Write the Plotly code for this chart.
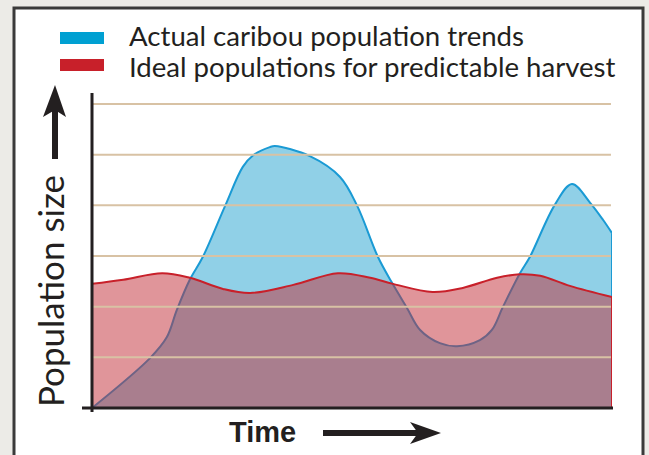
import plotly.graph_objects as go

W, H = 649, 455

# ---- data (time in arbitrary units 0..10, population in grid units 0..6)
actual_t = [0, 1.12, 1.44, 1.63, 1.88, 2.13, 2.56, 2.90, 3.10, 3.42, 3.52, 4.19, 4.77,
            5.10, 5.50, 5.77, 6.06, 6.31, 6.69, 7.02, 7.46, 7.69, 7.90, 8.23, 8.42,
            8.90, 9.23, 9.58, 9.83, 10]
actual_pop = [0, 0.99, 1.40, 1.93, 2.53, 2.98, 3.99, 4.76, 4.99, 5.15, 5.17, 4.97, 4.56,
              3.99, 2.98, 2.47, 1.97, 1.54, 1.28, 1.22, 1.34, 1.54, 1.99, 2.66, 2.98,
              4.01, 4.42, 4.05, 3.71, 3.45]
ideal_t = [0, 0.60, 1.35, 1.88, 2.52, 3.04, 3.87, 4.73, 5.35, 5.79, 6.55, 7.13, 7.79,
           8.23, 8.62, 9.19, 10]
ideal_pop = [2.45, 2.53, 2.66, 2.57, 2.35, 2.27, 2.43, 2.66, 2.57, 2.45, 2.29, 2.37, 2.57,
             2.64, 2.61, 2.41, 2.19]
grid_levels = [1, 2, 3, 4, 5, 6]
legend_labels = ["Actual caribou population trends", "Ideal populations for predictable harvest"]

BLUE_LINE = "#1a9ad4"
BLUE_FILL = "rgba(20,155,205,0.47)"
RED_LINE = "#c8202a"
RED_FILL = "rgba(193,43,53,0.5)"
INK = "#231f20"
GRID = "#d8c2a4"

def X(px):
    return px / W

def Y(py):
    return 1 - py / H

fig = go.Figure()
fig.add_trace(go.Scatter(x=actual_t, y=actual_pop, mode="lines", fill="tozeroy",
                         fillcolor=BLUE_FILL, line=dict(color=BLUE_LINE, width=2, shape="spline", smoothing=1),
                         hoverinfo="skip", showlegend=False))
fig.add_trace(go.Scatter(x=[actual_t[-1], actual_t[-1]], y=[actual_pop[-1], 0], mode="lines",
                         line=dict(color=BLUE_LINE, width=2), hoverinfo="skip", showlegend=False))
fig.add_trace(go.Scatter(x=ideal_t, y=ideal_pop, mode="lines", fill="tozeroy",
                         fillcolor=RED_FILL, line=dict(color=RED_LINE, width=2, shape="spline", smoothing=1),
                         hoverinfo="skip", showlegend=False))
fig.add_trace(go.Scatter(x=[ideal_t[-1], ideal_t[-1]], y=[ideal_pop[-1], 0], mode="lines",
                         line=dict(color=RED_LINE, width=2), hoverinfo="skip", showlegend=False))

shapes = []
# frame and white panel
shapes.append(dict(type="rect", xref="paper", yref="paper", x0=X(14), x1=X(643), y0=Y(470), y1=Y(8),
                   fillcolor="white", line=dict(color="#3a3a3a", width=3), layer="below"))
# gridlines drawn above the fills
for g in grid_levels:
    shapes.append(dict(type="line", xref="x", yref="y", x0=0, x1=9.98, y0=g, y1=g,
                       line=dict(color=GRID, width=2), layer="above"))
# axis lines
shapes.append(dict(type="line", xref="paper", yref="paper", x0=X(92), x1=X(92), y0=Y(93), y1=Y(412),
                   line=dict(color=INK, width=3)))
shapes.append(dict(type="line", xref="paper", yref="paper", x0=X(82), x1=X(613), y0=Y(408), y1=Y(408),
                   line=dict(color=INK, width=3)))
# legend swatches
shapes.append(dict(type="rect", xref="paper", yref="paper", x0=X(60), x1=X(104), y0=Y(44), y1=Y(32),
                   fillcolor="#00a0d2", line=dict(width=0)))
shapes.append(dict(type="rect", xref="paper", yref="paper", x0=X(60), x1=X(104), y0=Y(71), y1=Y(59),
                   fillcolor="#c8202a", line=dict(width=0)))
# vertical arrow
shapes.append(dict(type="rect", xref="paper", yref="paper", x0=X(52), x1=X(58), y0=Y(159), y1=Y(110),
                   fillcolor=INK, line=dict(width=0)))
shapes.append(dict(type="path", xref="paper", yref="paper",
                   path=f"M {X(55)},{Y(85)} L {X(66)},{Y(117)} L {X(55)},{Y(110)} L {X(43)},{Y(117)} Z",
                   fillcolor=INK, line=dict(width=0)))
# horizontal arrow
shapes.append(dict(type="rect", xref="paper", yref="paper", x0=X(323), x1=X(420), y0=Y(436), y1=Y(430),
                   fillcolor=INK, line=dict(width=0)))
shapes.append(dict(type="path", xref="paper", yref="paper",
                   path=f"M {X(441)},{Y(433)} L {X(410)},{Y(444)} L {X(418)},{Y(433)} L {X(410)},{Y(422)} Z",
                   fillcolor=INK, line=dict(width=0)))

annotations = [
    dict(text=legend_labels[0], xref="paper", yref="paper", x=X(127), y=Y(36), xanchor="left",
         yanchor="middle", showarrow=False, font=dict(family="Lato", size=27.6, color=INK)),
    dict(text=legend_labels[1], xref="paper", yref="paper", x=X(127), y=Y(66), xanchor="left",
         yanchor="middle", showarrow=False, font=dict(family="Lato", size=27.6, color=INK)),
    dict(text="Population size", xref="paper", yref="paper", x=X(50), y=Y(291), xanchor="center",
         yanchor="middle", textangle=-90, showarrow=False, font=dict(family="Lato", size=35, color=INK)),
    dict(text="<b>Time</b>", xref="paper", yref="paper", x=X(262), y=Y(432), xanchor="center",
         yanchor="middle", showarrow=False, font=dict(family="Liberation Sans", size=29, color=INK)),
]

fig.update_layout(
    width=W, height=H, margin=dict(l=0, r=0, t=0, b=0),
    paper_bgcolor="#ecebe7", plot_bgcolor="rgba(0,0,0,0)",
    shapes=shapes, annotations=annotations, showlegend=False,
    xaxis=dict(domain=[X(92), X(612)], range=[0, 10], showgrid=False, zeroline=False,
               showticklabels=False, showline=False, fixedrange=True),
    yaxis=dict(domain=[Y(410), Y(102)], range=[-0.04, 6.04], showgrid=False,
               zeroline=False, showticklabels=False, showline=False, fixedrange=True, ticks=""),
)

fig.write_html("out.html", config={"displayModeBar": False},
               post_script="document.body.style.margin='0';document.body.style.overflow='hidden';")
